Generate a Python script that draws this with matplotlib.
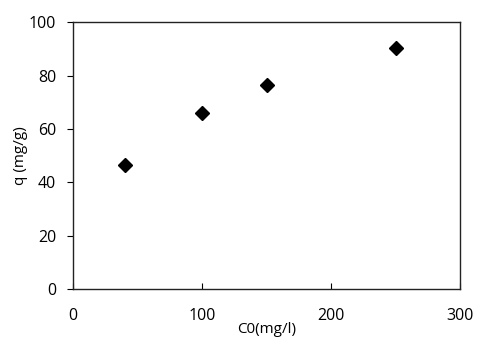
import matplotlib.pyplot as plt

plt.rcParams['font.family'] = ['Open Sans', 'DejaVu Sans']

# initial concentration vs adsorption capacity
c0 = [40, 100, 150, 250]
q = [46.5, 66, 76.5, 90.5]

fig = plt.figure(figsize=(5.0, 3.51), dpi=100)
ax = fig.add_axes([0.146, 0.177, 0.774, 0.759])

ax.plot(c0, q, ls='none', marker='D', ms=6.8, color='black')

ax.set_xlim(0, 300)
ax.set_ylim(0, 100)
ax.set_xticks([0, 100, 200, 300])
ax.set_yticks([0, 20, 40, 60, 80, 100])

ax.tick_params(axis='x', direction='in', length=4.5, width=0.8, pad=14, labelsize=11.5)
ax.tick_params(axis='y', direction='out', length=4.5, width=0.8, pad=7.5, labelsize=11.5)
for s in ax.spines.values():
    s.set_linewidth(1.0)
    s.set_color('#222222')

ax.set_xlabel('C0(mg/l)', fontsize=11, labelpad=-2)
ax.set_ylabel('q (mg/g)', fontsize=11, labelpad=0.5)

fig.savefig('out.png', dpi=100)
